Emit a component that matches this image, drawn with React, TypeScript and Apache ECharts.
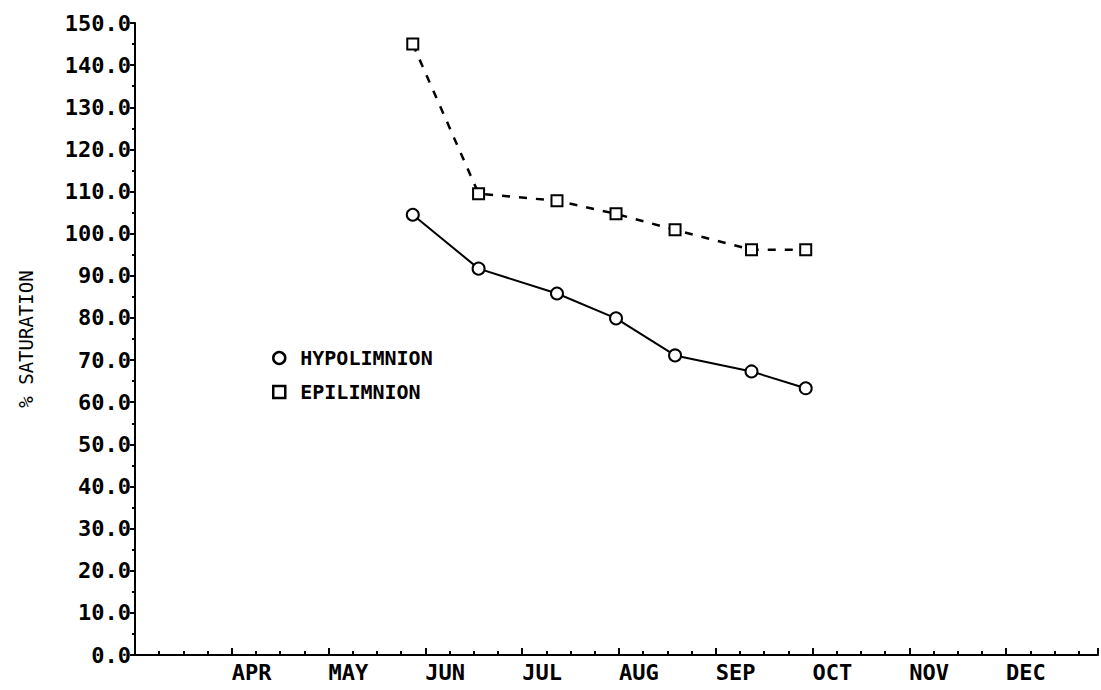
import React, { useEffect, useRef } from 'react';
import * as echarts from 'echarts';

// x in months after 1 March (0 = MAR 1, 1 = APR 1, ...)
const monthLabels = ['', 'APR', 'MAY', 'JUN', 'JUL', 'AUG', 'SEP', 'OCT', 'NOV', 'DEC'];
const sampleMonths = [2.87, 3.55, 4.36, 4.97, 5.58, 6.37, 6.93];
const hypolimnion = [104.5, 91.7, 85.8, 79.9, 71.1, 67.3, 63.3];
const epilimnion = [145.0, 109.5, 107.8, 104.7, 100.9, 96.2, 96.2];

const MONO = '"DejaVu Sans Mono", monospace';

export default function App() {
  const ref = useRef<HTMLDivElement>(null);
  useEffect(() => {
    const chart = echarts.init(ref.current!, null, { renderer: 'svg' });
    const hypoData = sampleMonths.map((m, i) => [m, hypolimnion[i]]);
    const epiData = sampleMonths.map((m, i) => [m, epilimnion[i]]);
    chart.setOption({
      animation: false,
      backgroundColor: '#ffffff',
      grid: { left: 135, right: 1, top: 23, bottom: 35, containLabel: false },
      legend: {
        orient: 'vertical',
        left: 267,
        top: 343,
        itemWidth: 12,
        itemHeight: 12,
        itemGap: 14,
        textStyle: { fontFamily: MONO, fontSize: 20, fontWeight: 'bold', color: '#000', padding: [0, 0, 0, 10] },
        data: [
          { name: 'HYPOLIMNION', icon: 'circle', itemStyle: { color: '#fff', borderColor: '#000', borderWidth: 2.5 } },
          { name: 'EPILIMNION', icon: 'rect', itemStyle: { color: '#fff', borderColor: '#000', borderWidth: 2.5 } },
        ],
      },
      xAxis: {
        type: 'value',
        min: 0,
        max: 9.95,
        interval: 1,
        axisLine: { show: true, lineStyle: { color: '#000', width: 2 } },
        axisTick: { show: true, inside: true, length: 7, lineStyle: { color: '#000', width: 2 } },
        minorTick: { show: true, splitNumber: 4, length: 4, lineStyle: { color: '#000', width: 2 } },
        splitLine: { show: false },
        axisLabel: {
          margin: 6,
          align: 'left',
          fontFamily: MONO,
          fontSize: 22,
          fontWeight: 'bold',
          color: '#000',
          formatter: (v: number) => (Number.isInteger(v) && v >= 0 && v < monthLabels.length ? monthLabels[v] : ''),
        },
      },
      yAxis: {
        type: 'value',
        min: 0,
        max: 150,
        interval: 10,
        name: '% SATURATION',
        nameLocation: 'middle',
        nameRotate: 90,
        nameGap: 100,
        nameTextStyle: { fontFamily: MONO, fontSize: 19, color: '#000' },
        axisLine: { show: true, lineStyle: { color: '#000', width: 2 } },
        axisTick: { show: true, inside: false, length: 5, lineStyle: { color: '#000', width: 2 } },
        minorTick: { show: true, splitNumber: 2, length: 3, lineStyle: { color: '#000', width: 2 } },
        splitLine: { show: false },
        axisLabel: {
          margin: 4,
          fontFamily: MONO,
          fontSize: 22,
          fontWeight: 'bold',
          color: '#000',
          formatter: (v: number) => v.toFixed(1),
        },
      },
      series: [
        {
          name: 'HYPOLIMNION',
          type: 'line',
          data: hypoData,
          symbol: 'emptyCircle',
          symbolSize: 12,
          itemStyle: { color: '#000', borderColor: '#000', borderWidth: 2.5 },
          lineStyle: { color: '#000', width: 2, type: 'solid' },
        },
        {
          name: 'EPILIMNION',
          type: 'line',
          data: epiData,
          symbol: 'emptyRect',
          symbolSize: 11,
          itemStyle: { color: '#000', borderColor: '#000', borderWidth: 2.5 },
          lineStyle: { color: '#000', width: 2.5, type: [8, 9] },
        },
      ],
    });
    return () => chart.dispose();
  }, []);
  return (
    <div
      ref={ref}
      style={{ position: 'fixed', left: 0, top: 0, width: 1101, height: 690, background: '#fff' }}
    />
  );
}
